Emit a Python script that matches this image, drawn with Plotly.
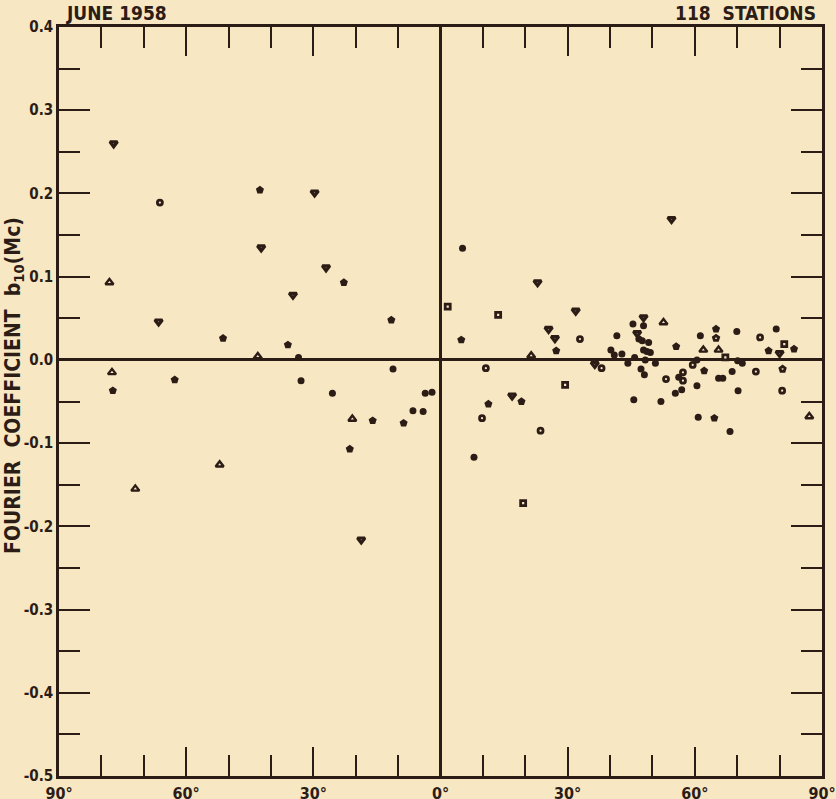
import plotly.graph_objects as go

# Latitude (deg; negative = southern half, left) and Fourier coefficient b10 (Mc)
inv_tri_lat = [-77.1, -29.7, -42.3, -27.0, -34.8, -66.5, -18.7,
               22.9, 31.9, 25.5, 27.0, 16.9, 36.4, 47.9, 80.0, 54.5, 46.4]
inv_tri_val = [0.260, 0.201, 0.135, 0.111, 0.078, 0.046, -0.216,
               0.093, 0.059, 0.037, 0.026, -0.043, -0.005, 0.051, 0.008, 0.169, 0.032]

tri_lat = [-78.1, -77.5, -72.0, -52.1, -43.1, -20.8,
           21.4, 52.6, 62.0, 65.6, 87.0]
tri_val = [0.093, -0.015, -0.155, -0.126, 0.004, -0.071,
           0.005, 0.045, 0.012, 0.012, -0.068]

ring_lat = [-66.2, 32.9, 10.7, 38.0, 9.8, 23.6, 59.5, 74.4, 53.2, 57.2, 57.2, 80.6, 75.4]
ring_val = [0.189, 0.025, -0.010, -0.010, -0.070, -0.085, -0.006, -0.014, -0.023,
            -0.015, -0.025, -0.037, 0.027]

pent_lat = [-42.6, -22.8, -11.6, -36.0, -51.3, -77.3, -62.7, -16.0, -21.4, -8.7,
            4.9, 27.3, 19.1, 11.3, 65.0, 55.6, 83.4, 77.4, 62.2, 64.6]
pent_val = [0.204, 0.093, 0.048, 0.018, 0.026, -0.037, -0.024, -0.073, -0.107, -0.076,
            0.024, 0.011, -0.050, -0.053, 0.037, 0.016, 0.013, 0.011, -0.013, -0.070]

pent_ring_lat = [65.0, 80.7]
pent_ring_val = [0.026, -0.011]

dot_lat = [-33.5, -11.2, -32.9, -25.5, -3.6, -2.0, -6.5, -4.1,
           5.2, 41.6, 7.9, 45.4, 47.9, 61.3, 69.9, 79.2, 47.6, 46.8, 49.1, 47.9,
           48.7, 49.5, 42.8, 45.8, 48.3, 44.2, 50.7, 60.5, 70.1, 71.2, 68.8, 47.3,
           48.1, 56.2, 65.6, 66.6, 60.5, 70.2, 56.9, 55.4, 45.6, 52.0, 60.8, 68.3,
           40.2, 41.0]
dot_val = [0.003, -0.011, -0.025, -0.040, -0.040, -0.039, -0.061, -0.062,
           0.134, 0.029, -0.117, 0.043, 0.041, 0.029, 0.034, 0.037, 0.023, 0.025, 0.021, 0.012,
           0.010, 0.009, 0.007, 0.003, 0.000, -0.004, -0.004, 0.000, -0.001, -0.004, -0.014, -0.011,
           -0.018, -0.021, -0.022, -0.022, -0.031, -0.037, -0.036, -0.040, -0.048, -0.050, -0.069, -0.086,
           0.012, 0.006]

sq_lat = [1.7, 13.6, 29.4, 19.5, 81.1, 67.2]
sq_val = [0.064, 0.054, -0.030, -0.172, 0.019, 0.003]

x_tickvals = [-90, -60, -30, 0, 30, 60, 90]
x_ticktext = ["90°", "60°", "30°", "0°", "30°", "60°", "90°"]
y_tickvals = [-0.5, -0.4, -0.3, -0.2, -0.1, 0.0, 0.1, 0.2, 0.3, 0.4]
y_ticktext = ["-0.5", "-0.4", "-0.3", "-0.2", "-0.1", "0.0", "0.1", "0.2", "0.3", "0.4"]

BG = "#f8e7c3"
INK = "#2c1c16"
FONT = "Liberation Sans Narrow, DejaVu Sans Condensed, Arial Narrow, sans-serif"
NB = "\u00a0"

fig = go.Figure()

def hollow(sym, size, lw):
    return dict(symbol=sym, size=size, color=BG, line=dict(color=INK, width=lw))

def solid(sym, size):
    return dict(symbol=sym, size=size, color=INK, line=dict(color=INK, width=0))

fig.add_trace(go.Scatter(x=inv_tri_lat, y=inv_tri_val, mode="markers", marker=hollow("triangle-down", 6.5, 3.2)))
fig.add_trace(go.Scatter(x=tri_lat, y=tri_val, mode="markers", marker=hollow("triangle-up", 7, 2.4)))
fig.add_trace(go.Scatter(x=ring_lat, y=ring_val, mode="markers", marker=hollow("circle", 5, 2.8)))
fig.add_trace(go.Scatter(x=pent_lat, y=pent_val, mode="markers", marker=solid("pentagon", 8.5)))
fig.add_trace(go.Scatter(x=pent_ring_lat, y=pent_ring_val, mode="markers", marker=hollow("pentagon", 5.5, 2.8)))
fig.add_trace(go.Scatter(x=dot_lat, y=dot_val, mode="markers", marker=solid("circle", 7)))
fig.add_trace(go.Scatter(x=sq_lat, y=sq_val, mode="markers", marker=hollow("square", 5, 2.8)))

fig.update_layout(
    width=836, height=799,
    margin=dict(l=59, r=14, t=27, b=23),
    paper_bgcolor=BG, plot_bgcolor=BG,
    showlegend=False,
    font=dict(family=FONT, color=INK, size=15),
    xaxis=dict(
        range=[-90, 90], tickvals=x_tickvals, ticktext=x_ticktext,
        ticks="inside", ticklen=29, tickwidth=2, tickcolor=INK,
        minor=dict(dtick=10, tick0=0, ticks="inside", ticklen=21, tickwidth=2, tickcolor=INK),
        showline=True, linewidth=2.5, linecolor=INK, mirror="ticks",
        showgrid=False, zeroline=True, zerolinecolor=INK, zerolinewidth=2.5,
        tickfont=dict(family=FONT, size=16, color=INK, weight="bold"),
        ticklabelstandoff=1, automargin=False,
    ),
    yaxis=dict(
        range=[-0.5, 0.4], tickvals=y_tickvals, ticktext=y_ticktext,
        ticks="inside", ticklen=31, tickwidth=2, tickcolor=INK,
        minor=dict(dtick=0.05, tick0=0, ticks="inside", ticklen=21, tickwidth=2, tickcolor=INK),
        showline=True, linewidth=2.5, linecolor=INK, mirror="ticks",
        showgrid=False, zeroline=True, zerolinecolor=INK, zerolinewidth=2.5,
        tickfont=dict(family=FONT, size=15, color=INK, weight="bold"),
        ticklabelstandoff=0, automargin=False,
    ),
    annotations=[
        dict(text=f"FOURIER{NB}{NB}COEFFICIENT{NB}{NB}b<sub>10</sub>(Mc)",
             x=-0.059, y=0.522, xref="paper", yref="paper", textangle=-90,
             xanchor="center", yanchor="middle", showarrow=False,
             font=dict(family=FONT, size=21, color=INK, weight="bold")),
        dict(text="JUNE 1958", x=0.007, y=1, xref="paper", yref="paper",
             xanchor="left", yanchor="bottom", showarrow=False, yshift=1,
             font=dict(family=FONT, size=19, color=INK, weight="bold")),
        dict(text=f"118{NB}{NB}STATIONS", x=0.995, y=1, xref="paper", yref="paper",
             xanchor="right", yanchor="bottom", showarrow=False, yshift=1,
             font=dict(family=FONT, size=19, color=INK, weight="bold")),
    ],
)

fig.write_html(
    "out.html",
    config={"displayModeBar": False},
    post_script="document.body.style.margin='0';document.body.style.background='" + BG + "';",
)
